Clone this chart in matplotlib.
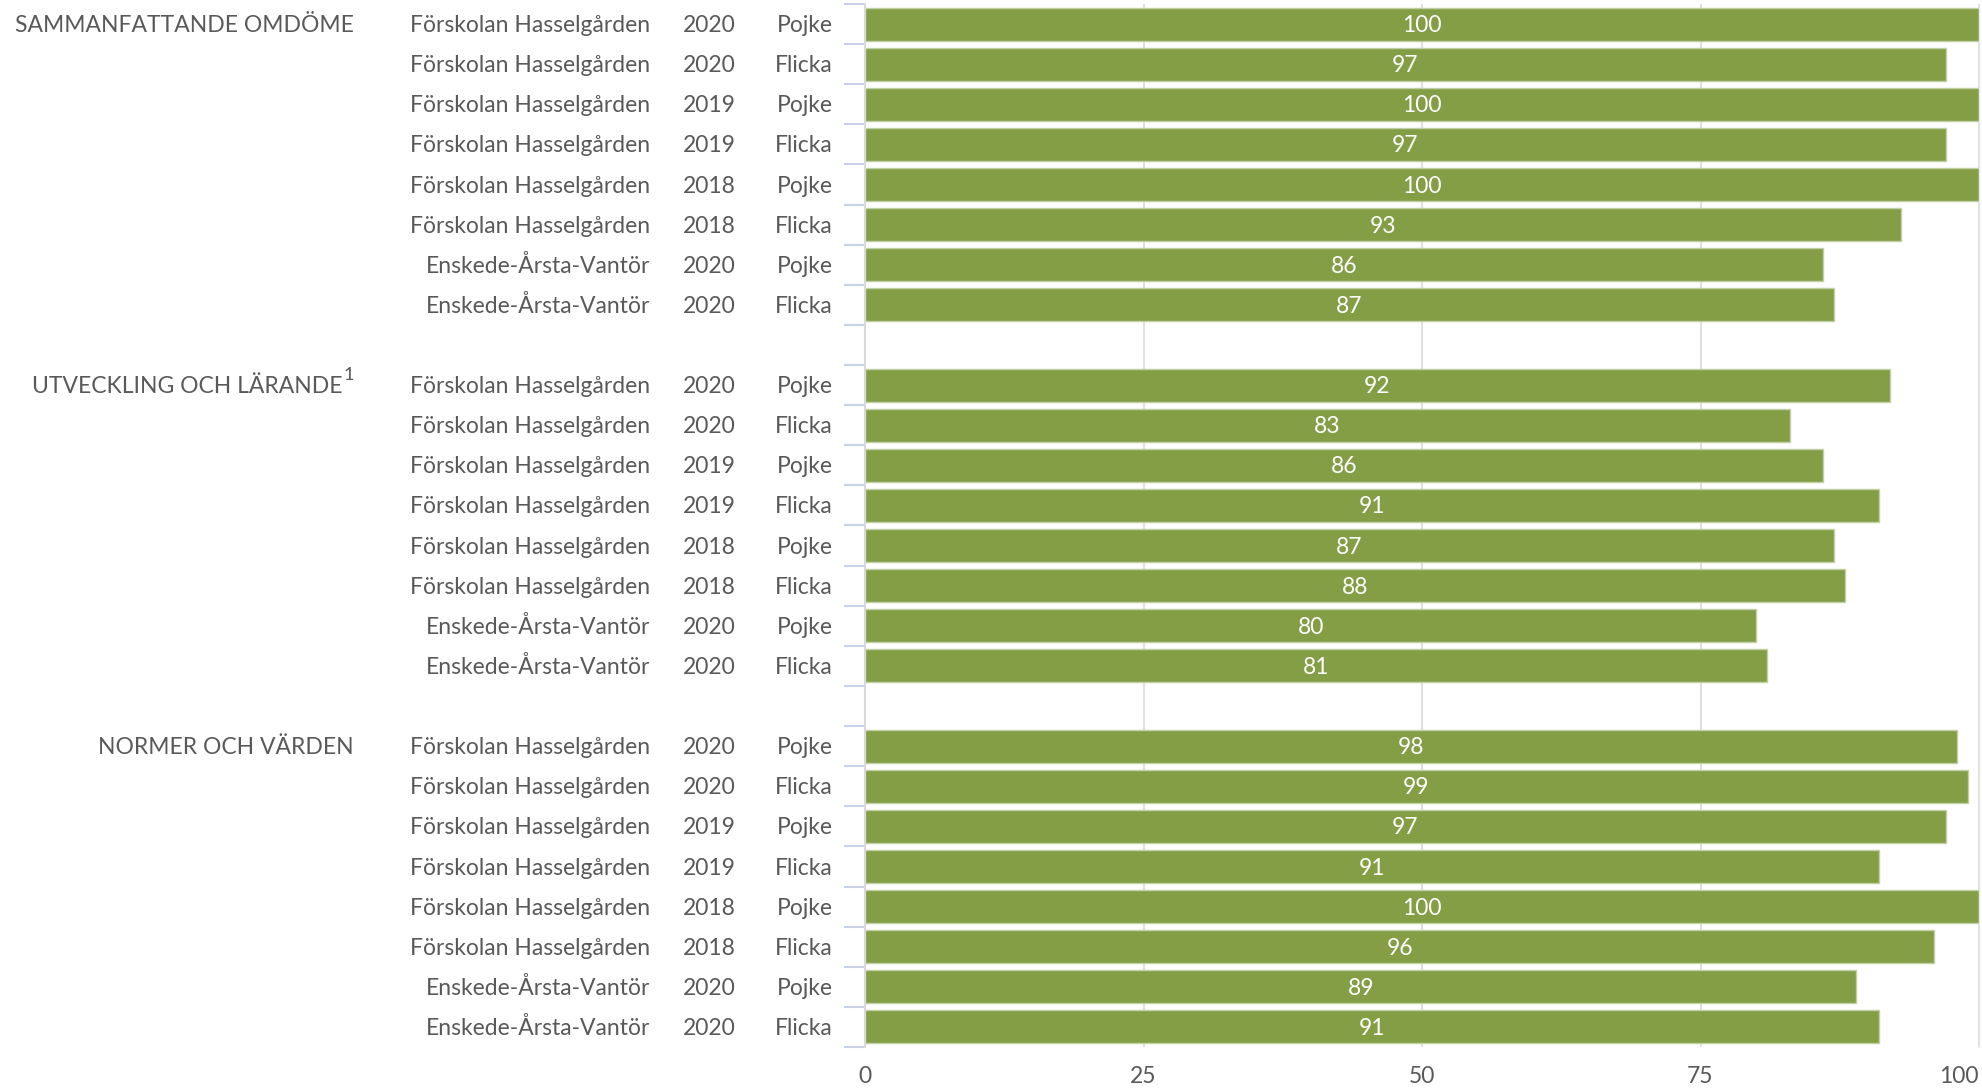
import matplotlib
matplotlib.use("Agg")
import matplotlib.pyplot as plt
from matplotlib.transforms import blended_transform_factory
import numpy as np

plt.rcParams['font.family'] = ['Lato', 'DejaVu Sans']

groups = ["SAMMANFATTANDE OMDÖME", "UTVECKLING OCH LÄRANDE", "NORMER OCH VÄRDEN"]
group_sup = ["", "1", ""]
schools = ["Förskolan Hasselgården"] * 6 + ["Enskede-Årsta-Vantör"] * 2
years = ["2020", "2020", "2019", "2019", "2018", "2018", "2020", "2020"]
genders = ["Pojke", "Flicka", "Pojke", "Flicka", "Pojke", "Flicka", "Pojke", "Flicka"]
values_sammanfattande = [100, 97, 100, 97, 100, 93, 86, 87]
values_utveckling = [92, 83, 86, 91, 87, 88, 80, 81]
values_normer = [98, 99, 97, 91, 100, 96, 89, 91]
all_values = [values_sammanfattande, values_utveckling, values_normer]
xticks = [0, 25, 50, 75, 100]

W, H = 1983, 1090
fig = plt.figure(figsize=(W / 100, H / 100), dpi=100)
x0, x1 = 865, 1979
y0, y1 = 4, 1047
ax = fig.add_axes([x0 / W, 1 - y1 / H, (x1 - x0) / W, (y1 - y0) / H])

bar_color = "#839E45"
text_color = "#595959"
fs = 16.5
boff = 0.2  # baseline offset in row units

n_per = len(schools)
rows_total = len(groups) * (n_per + 1) - 1
trans = blended_transform_factory(fig.transFigure, ax.transData)

for g, (gname, vals) in enumerate(zip(groups, all_values)):
    base = g * (n_per + 1)
    ys = [base + i for i in range(n_per)]
    ax.barh(ys, vals, height=0.82, color=bar_color, edgecolor="#c3d0a6",
            linewidth=1.0, zorder=2)
    for y, v in zip(ys, vals):
        ax.text(v / 2, y + boff, str(v), ha="center", va="baseline", color="white",
                fontsize=fs, zorder=3)
    for i, y in enumerate(ys):
        ax.text(650 / W, y + boff, schools[i], transform=trans, ha="right", va="baseline",
                color=text_color, fontsize=fs)
        ax.text(736 / W, y + boff, years[i], transform=trans, ha="right", va="baseline",
                color=text_color, fontsize=fs)
        ax.text(833 / W, y + boff, genders[i], transform=trans, ha="right", va="baseline",
                color=text_color, fontsize=fs)
    if group_sup[g]:
        ax.text(354 / W, ys[0] - 0.12, group_sup[g], transform=trans, ha="right",
                va="baseline", color=text_color, fontsize=fs * 0.8)
        ax.text(343 / W, ys[0] + boff, gname, transform=trans, ha="right", va="baseline",
                color=text_color, fontsize=fs)
    else:
        ax.text(354 / W, ys[0] + boff, gname, transform=trans, ha="right", va="baseline",
                color=text_color, fontsize=fs)

ax.set_xlim(0, 100)
ax.set_ylim(rows_total - 0.5, -0.5)
ax.set_xticks(xticks)
ax.set_xticklabels([str(t) for t in xticks])
labels = ax.get_xticklabels()
labels[-1].set_horizontalalignment("right")
ax.tick_params(axis="x", length=0, pad=14, labelsize=fs, labelcolor=text_color)
ax.set_yticks(np.arange(-0.5, rows_total, 1.0))
ax.set_yticklabels([])
ax.tick_params(axis="y", length=15, width=1.5, color="#c9d3e8", direction="out")
ax.grid(axis="x", color="#d9d9d9", linewidth=1.2, zorder=0)
ax.set_axisbelow(True)
for s in ["top", "bottom"]:
    ax.spines[s].set_visible(False)
ax.spines["left"].set_color("#d9d9d9")
ax.spines["left"].set_linewidth(1.5)
ax.spines["right"].set_color("#e6e6e6")
ax.spines["right"].set_linewidth(1.0)

fig.savefig("out.png", dpi=100)
